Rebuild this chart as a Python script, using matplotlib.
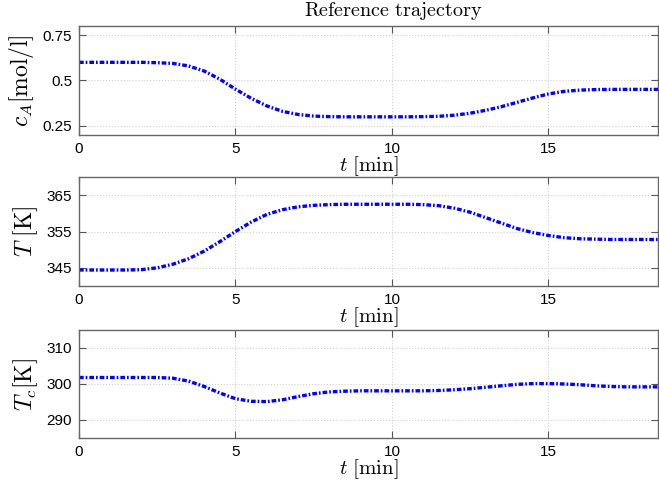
import matplotlib
matplotlib.use("Agg")
import matplotlib.pyplot as plt

plt.rcParams['mathtext.fontset'] = 'cm'
plt.rcParams['font.family'] = ['Liberation Sans', 'DejaVu Sans']

t = [0.0, 0.5, 1.0, 1.5, 2.0, 2.5, 3.0, 3.5, 4.0, 4.5, 5.0, 5.5, 6.0, 6.5, 7.0,
     7.5, 8.0, 8.5, 9.0, 9.5, 10.0, 10.5, 11.0, 11.5, 12.0, 12.5, 13.0, 13.5,
     14.0, 14.5, 15.0, 15.5, 16.0, 16.5, 17.0, 17.5, 18.0, 18.5]

c_A = [0.600, 0.600, 0.600, 0.600, 0.600, 0.598, 0.594, 0.580, 0.552, 0.507,
       0.452, 0.402, 0.360, 0.330, 0.313, 0.304, 0.301, 0.300, 0.300, 0.300,
       0.300, 0.300, 0.301, 0.303, 0.309, 0.320, 0.336, 0.356, 0.380, 0.404,
       0.426, 0.440, 0.447, 0.450, 0.451, 0.451, 0.451, 0.451]

T = [344.4, 344.4, 344.4, 344.4, 344.5, 345.0, 346.0, 347.5, 349.6, 352.2,
     355.0, 357.6, 359.7, 361.0, 361.8, 362.2, 362.4, 362.5, 362.5, 362.5,
     362.5, 362.5, 362.4, 362.1, 361.4, 360.3, 358.8, 357.3, 355.8, 354.7,
     353.9, 353.3, 353.0, 352.9, 352.8, 352.8, 352.8, 352.8]

T_c = [301.8, 301.8, 301.8, 301.8, 301.8, 301.8, 301.6, 300.8, 299.3, 297.5,
       295.9, 295.2, 295.1, 295.6, 296.5, 297.3, 297.8, 298.0, 298.1, 298.1,
       298.1, 298.1, 298.1, 298.2, 298.4, 298.7, 299.1, 299.5, 299.9, 300.1,
       300.1, 300.0, 299.8, 299.5, 299.3, 299.2, 299.2, 299.2]

series = [c_A, T, T_c]
ylabels = [r'$c_A[\mathrm{mol/l}]$', r'$T\ [\mathrm{K}]$', r'$T_c[\mathrm{K}]$']
yticks = [[0.25, 0.5, 0.75], [345, 355, 365], [290, 300, 310]]
yticklabels = [['0.25', '0.5', '0.75'], ['345', '355', '365'], ['290', '300', '310']]
ylims = [(0.2, 0.8), (340, 370), (285, 315)]
xticks = [0, 5, 10, 15]

fig = plt.figure(figsize=(6.59, 4.83), dpi=100)
boxes = [(0.1199, 0.7205, 0.8786, 0.2257),
         (0.1199, 0.4079, 0.8786, 0.2256),
         (0.1199, 0.0932, 0.8786, 0.2236)]

for i, (box, y) in enumerate(zip(boxes, series)):
    ax = fig.add_axes(box)
    ax.plot(t, y, color='#0000ff', linewidth=2.4,
            linestyle=(0, (1.4, 0.6, 0.5, 0.6)))
    ax.set_xlim(0, 18.5)
    ax.set_ylim(*ylims[i])
    ax.set_xticks(xticks)
    ax.set_xticklabels([str(v) for v in xticks], fontsize=11)
    ax.set_yticks(yticks[i])
    ax.set_yticklabels(yticklabels[i], fontsize=11)
    ax.grid(True, color='#d0d0d0', linestyle=':', linewidth=0.8)
    ax.tick_params(direction='in', length=5, width=0.8, color='#555555',
                   top=True, right=True, pad=5)
    for sp in ax.spines.values():
        sp.set_color('#666666')
        sp.set_linewidth(1.0)
    ax.set_xlabel(r'$t\ [\mathrm{min}]$', fontsize=15, labelpad=-1)
    ax.set_ylabel(ylabels[i], fontsize=17, labelpad=5)
    if i == 0:
        ax.set_title(r'$\mathrm{Reference\ trajectory}$', fontsize=14.5,
                     pad=7, x=0.542)

fig.savefig('out.png', dpi=100)
